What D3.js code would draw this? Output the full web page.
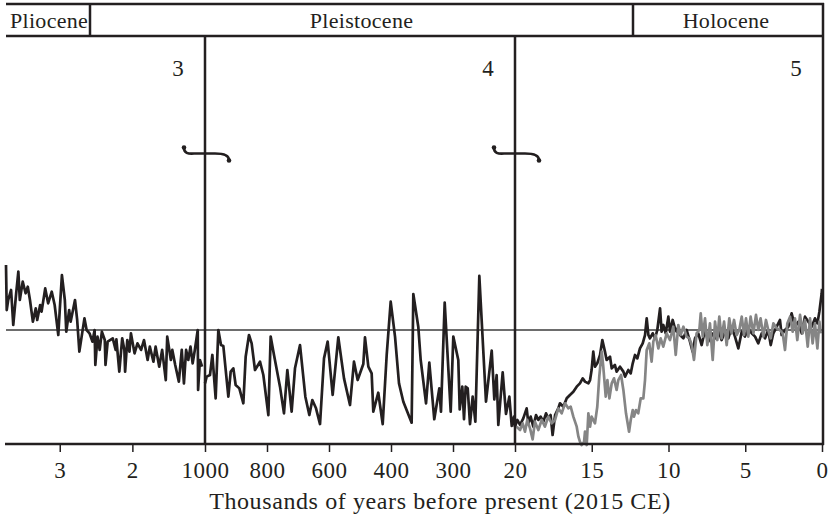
<!DOCTYPE html>
<html>
<head>
<meta charset="utf-8">
<script src="https://cdn.jsdelivr.net/npm/d3@7"></script>
<style>
  html, body { margin: 0; padding: 0; background: #fff; }
  svg { display: block; }
  text { font-family: "Liberation Serif", "Times New Roman", serif; fill: #231f20; }
</style>
</head>
<body>
<svg id="chart" width="830" height="519"></svg>
<script>
// ---------- DATA ----------
const epochs = ["Pliocene", "Pleistocene", "Holocene"];
const panelLabels = ["3", "4", "5"];
const axisTitle = "Thousands of years before present (2015 CE)";

// Panel "3": ages in millions of years (labels 3, 2, then 1000 ky)
const panel3Ticks = [3, 2];
const panel3Ages = [3.740,3.73,3.71,3.67,3.64,3.60,3.57,3.55,3.51,3.47,3.44,3.41,3.37,3.33,3.31,3.27,3.25,3.20,3.16,3.11,3.07,3.02,3.00,2.97,2.93,2.91,2.87,2.85,2.79,2.76,2.73,2.66,2.63,2.59,2.55,2.52,2.51,2.48,2.45,2.42,2.38,2.37,2.34,2.27,2.23,2.22,2.18,2.14,2.11,2.10,2.07,2.04,2.02,1.97,1.93,1.88,1.84,1.79,1.76,1.71,1.68,1.63,1.59,1.54,1.52,1.47,1.45,1.41,1.36,1.32,1.29,1.26,1.23,1.20,1.17,1.14,1.10,1.095,1.07,1.04];
const panel3Values = [5.70,1.75,2.63,3.51,0.44,3.22,5.12,2.63,4.24,3.22,3.80,2.63,0.73,1.90,0.88,2.19,1.61,3.65,2.34,3.36,2.19,-0.44,1.75,4.82,2.63,-0.15,1.75,0.73,2.63,0.88,-1.90,1.02,0,-0.29,-1.02,0,-3.07,-0.58,-1.75,-0.15,-0.88,-3.07,-1.02,-0.73,-1.75,-0.82,-3.65,-0.73,-1.75,-3.65,-0.88,-1.90,-0.29,-2.05,-1.17,-1.75,-0.88,-2.63,-1.46,-2.78,-1.46,-3.22,-1.75,-4.39,-0.58,-2.63,-1.75,-3.07,-4.53,-1.75,-4.68,-1.75,-2.63,-1.46,-2.92,-1.75,0,-5.26,-2.63,-3.22];

// Panel "4": ages in thousands of years
const panel4Ticks = [1000, 800, 600, 400, 300];
const panel4Ages = [1000,994.6,983.9,976.3,965.6,957,948.4,940.9,924.7,917.1,908.6,901.1,889.2,876.3,868.8,858.1,849.5,838.7,822.6,811.8,795.6,788.2,777.4,758.1,745.2,734.4,720.5,709.7,693.5,676.3,663.4,653.8,641.9,629,616.1,604.3,588.2,570,551.6,532.3,519.4,507.6,489.3,483.9,473.1,462.4,457.1,441,426.8,413.9,401,393.5,387.1,380.1,366.7,364,356,352.1,343.5,338.2,330.2,322.1,319.4,313.4,303.7,298.6,276.1,269.7,258,250.3,242.7,233.6,223.2,211.2,199.1,181.1,151,125.2,113.4,102.9,95.4,75.6,60.7,45.6,34.8,24.4,20];
const panel4Values = [-4.68,-4.09,-3.95,-2.19,-5.99,0,-1.32,-1.40,-5.85,-3.65,-3.36,-4.82,-5.12,-6.43,-2.34,-0.44,-1.17,-3.51,-2.78,-3.95,-7.46,-0.58,-2.19,-4.97,-7.31,-3.51,-7.16,-3.36,-1.32,-5.85,-7.46,-6.14,-6.87,-8.25,-2.49,-1.02,-5.70,-0.64,-4.24,-6.58,-2.78,-4.39,-2.98,-0.64,-3.22,-3.80,-7.16,-5.50,-8.25,-2.19,2.49,-0.58,-4.68,-6.29,-8.13,3.16,0.29,-2.63,-6.43,-2.87,-7.83,-5.12,-7.16,2.40,-7.16,-0.58,-2.63,-6.96,-4.97,-7.83,-4.97,-5.12,-8.25,-5.85,-8.04,4.74,-6.29,-1.81,-6.08,-3.95,-8.33,-3.71,-7.37,-5.85,-8.42,-7.60,-8.5];

// Panel "5": ages in thousands of years
const panel5Ticks = [20, 15, 10, 5, 0];
const panel5BlackAges = [20.00,19.85,19.67,19.46,19.24,19.13,18.98,18.81,18.63,18.48,18.33,18.15,17.98,17.83,17.68,17.55,17.39,17.18,17.07,16.85,16.63,16.42,16.20,15.98,15.77,15.59,15.44,15.22,15.11,15.01,14.90,14.79,14.64,14.46,14.31,14.14,14.03,13.81,13.70,13.49,13.38,13.16,12.94,12.83,12.62,12.46,12.33,12.18,12.03,11.86,11.68,11.53,11.42,11.31,11.21,11.03,10.88,10.73,10.55,10.45,10.34,10.18,10.01,9.90,9.73,9.58,9.47,9.36,9.25,9.03,8.82,8.60,8.43,8.27,8.06,7.84,7.62,7.41,7.19,6.97,6.75,6.54,6.32,6.10,5.89,5.67,5.45,5.23,5.02,4.80,4.58,4.36,4.15,3.93,3.71,3.50,3.34,3.17,2.95,2.74,2.63,2.41,2.19,1.98,1.76,1.54,1.32,1.11,0.89,0.67,0.46,0.30,0.17,0.02,0];
const panel5BlackValues = [-8.48,-7.89,-8.33,-7.75,-6.87,-8.19,-7.60,-8.48,-7.46,-7.89,-7.60,-8.04,-7.31,-7.75,-7.46,-9.21,-7.46,-6.87,-6.43,-6.73,-5.99,-5.70,-5.41,-4.97,-4.68,-4.24,-4.53,-4.68,-4.39,-3.51,-1.90,-3.22,-2.92,-2.19,-0.88,-1.90,-2.63,-2.34,-3.36,-3.07,-3.65,-3.22,-3.65,-4.09,-3.51,-3.80,-2.92,-2.19,-2.49,-1.61,-1.17,-0.44,1.02,-0.44,-0.73,-0.29,-0.73,0,1.90,-0.15,0.44,-0.29,1.17,-0.15,0.88,0.15,-0.15,0.29,-0.44,-0.73,0,-1.02,-1.90,-0.73,-0.29,-1.32,0,-1.02,-0.29,-0.73,0,-0.88,-0.15,-0.73,0.29,-0.58,-1.61,-0.15,-0.58,0.15,-0.29,-0.58,-1.17,-0.29,-0.73,0,-1.32,-0.29,0.29,0.88,-0.44,0,0.29,1.46,0.29,0.73,-0.29,1.17,0.73,0.29,1.02,0.58,1.61,3.22,3.6];
const panel5GrayAges = [19.89,19.67,19.50,19.35,19.20,19.02,18.85,18.70,18.48,18.26,18.05,17.83,17.61,17.39,17.18,16.96,16.74,16.53,16.37,16.20,15.98,15.87,15.77,15.66,15.50,15.44,15.33,15.22,15.11,15.01,14.79,14.64,14.51,14.35,14.25,14.09,13.98,13.85,13.70,13.55,13.38,13.27,13.09,12.94,12.77,12.57,12.46,12.33,12.25,12.12,11.97,11.81,11.64,11.53,11.42,11.25,11.10,10.99,10.84,10.66,10.51,10.34,10.12,9.90,9.69,9.53,9.36,9.21,9.03,8.82,8.64,8.49,8.34,8.17,7.99,7.90,7.77,7.62,7.47,7.30,7.12,6.97,6.82,6.69,6.54,6.38,6.21,6.04,5.89,5.73,5.56,5.39,5.23,5.08,4.95,4.80,4.65,4.47,4.30,4.15,4.00,3.82,3.65,3.50,3.34,3.17,2.95,2.74,2.56,2.41,2.26,2.08,1.91,1.76,1.61,1.43,1.26,1.11,0.93,0.78,0.61,0.46,0.30,0.17,0.09];
const panel5GrayValues = [-8.48,-8.77,-8.19,-8.92,-7.89,-8.63,-9.59,-8.04,-8.77,-7.89,-8.48,-7.60,-8.19,-7.89,-6.87,-7.31,-6.43,-6.87,-6.73,-7.60,-8.48,-9.36,-9.80,-10.09,-9.80,-8.92,-10.09,-7.31,-8.48,-7.60,-8.19,-6.73,-4.09,-1.90,-3.22,-5.85,-4.39,-5.99,-4.68,-4.24,-5.26,-4.39,-3.95,-5.26,-7.31,-8.92,-7.89,-7.02,-7.60,-7.02,-7.31,-5.99,-5.99,-4.39,-1.75,-1.17,-2.78,-1.02,-0.44,-1.61,-0.73,-1.46,-0.29,-0.88,0.29,-2.19,0.44,-0.44,0.29,-0.58,-0.73,-1.32,-2.63,-0.29,0,1.46,-0.58,1.02,-1.32,0.58,-2.63,0.73,-0.88,1.17,-0.73,0.73,-1.32,1.02,-0.29,0.88,-0.44,0,1.17,-0.44,1.02,-0.58,1.17,-0.29,1.32,0,1.02,-0.58,0.88,0,-0.73,0.58,0.15,0,-0.29,-1.75,0.58,1.17,-0.15,1.02,-0.88,1.32,-0.29,0.88,-1.46,1.02,-1.17,0.58,-1.61,0.73,-0.29];

// ---------- LAYOUT ----------
const ink = "#231f20";
const svg = d3.select("#chart");
const bandTop = 4, bandBottom = 36, axisY = 444;
const leftX = 6, rightX = 823;

const x3 = d3.scaleLinear().domain([3.74, 1.0]).range([leftX, 205]);
const x4 = d3.scaleLinear().domain([1000, 800, 600, 400, 300, 20]).range([205, 267, 329, 391, 453, 515]);
const x5 = d3.scaleLinear().domain([20, 0]).range([515, 822]);
const y = d3.scaleLinear().domain([-10, 10]).range([axisY, 216]);

const div1 = x4(1000), div2 = x5(20);

// Epoch band
const band = svg.append("g");
band.append("line").attr("x1", leftX).attr("x2", rightX + 1).attr("y1", bandTop).attr("y2", bandTop)
  .attr("stroke", ink).attr("stroke-width", 2.5);
band.append("line").attr("x1", leftX).attr("x2", rightX + 1).attr("y1", bandBottom).attr("y2", bandBottom)
  .attr("stroke", ink).attr("stroke-width", 2.5);
const epochEdges = [90, 633];
epochEdges.forEach(ex => band.append("line").attr("x1", ex).attr("x2", ex).attr("y1", bandTop).attr("y2", bandBottom)
  .attr("stroke", ink).attr("stroke-width", 2.5));
band.append("text").attr("x", 10).attr("y", 28).attr("font-size", 22).attr("letter-spacing", 0.3).text(epochs[0]);
band.append("text").attr("x", (90 + 633) / 2).attr("y", 28).attr("font-size", 22).attr("letter-spacing", 0.3)
  .attr("text-anchor", "middle").text(epochs[1]);
band.append("text").attr("x", (633 + rightX) / 2 - 2).attr("y", 28).attr("font-size", 22).attr("letter-spacing", 0.3)
  .attr("text-anchor", "middle").text(epochs[2]);

// zero reference line
svg.append("line").attr("x1", leftX).attr("x2", rightX).attr("y1", y(0)).attr("y2", y(0))
  .attr("stroke", "#3c3c3c").attr("stroke-width", 1.4);

// data lines
const line3 = d3.line().x(d => x3(d[0])).y(d => y(d[1]));
const line4 = d3.line().x(d => x4(d[0])).y(d => y(d[1]));
const line5 = d3.line().x(d => x5(d[0])).y(d => y(d[1]));
const zip = (a, b) => a.map((v, i) => [v, b[i]]);

svg.append("path").datum(zip(panel3Ages, panel3Values)).attr("d", line3)
  .attr("fill", "none").attr("stroke", ink).attr("stroke-width", 2.7).attr("stroke-linejoin", "round");
svg.append("path").datum(zip(panel4Ages, panel4Values)).attr("d", line4)
  .attr("fill", "none").attr("stroke", ink).attr("stroke-width", 2.7).attr("stroke-linejoin", "round");
svg.append("path").datum(zip(panel5BlackAges, panel5BlackValues)).attr("d", line5)
  .attr("fill", "none").attr("stroke", ink).attr("stroke-width", 2.7).attr("stroke-linejoin", "round");
svg.append("path").datum(zip(panel5GrayAges, panel5GrayValues)).attr("d", line5)
  .attr("fill", "none").attr("stroke", "#858585").attr("stroke-width", 2.7).attr("stroke-linejoin", "round");

// panel dividers and right border
[div1, div2].forEach(dx => svg.append("line").attr("x1", dx).attr("x2", dx).attr("y1", bandBottom).attr("y2", axisY)
  .attr("stroke", ink).attr("stroke-width", 2.5));
svg.append("line").attr("x1", rightX).attr("x2", rightX).attr("y1", bandTop - 1).attr("y2", axisY + 1)
  .attr("stroke", ink).attr("stroke-width", 2.5);

// panel numbers
[div1, div2, rightX].forEach((dx, i) => svg.append("text").attr("x", dx - 27).attr("y", 76)
  .attr("font-size", 23).attr("text-anchor", "middle").text(panelLabels[i]));

// break marks (swash)
[div1, div2].forEach(dx => {
  const g = svg.append("g").attr("fill", "none").attr("stroke", ink);
  g.append("path")
    .attr("d", `M${dx - 21},148 C${dx - 21},153 ${dx - 17},154 ${dx - 11},153.5 L${dx + 10},153.5 C${dx + 19},153.5 ${dx + 24},155 ${dx + 24},160`)
    .attr("stroke-width", 2.6).attr("stroke-linecap", "round");
  g.append("circle").attr("cx", dx - 21).attr("cy", 147.5).attr("r", 2.3).attr("fill", ink).attr("stroke", "none");
  g.append("circle").attr("cx", dx + 24).attr("cy", 160.5).attr("r", 2.3).attr("fill", ink).attr("stroke", "none");
});

// axis line
svg.append("line").attr("x1", leftX - 1).attr("x2", rightX + 1).attr("y1", axisY).attr("y2", axisY)
  .attr("stroke", ink).attr("stroke-width", 2.5);

function styleAxis(g) {
  g.select(".domain").remove();
  g.selectAll(".tick line").attr("stroke", ink).attr("stroke-width", 1.5);
  g.selectAll(".tick text").attr("font-family", "'Liberation Serif', serif").attr("font-size", 23)
    .attr("letter-spacing", 0.5).attr("fill", ink).attr("dy", 0).attr("y", 34);
}
svg.append("g").attr("transform", `translate(0,${axisY})`)
  .call(d3.axisBottom(x3).tickValues(panel3Ticks).tickFormat(d3.format("d")).tickSize(8)).call(styleAxis);
svg.append("g").attr("transform", `translate(0,${axisY})`)
  .call(d3.axisBottom(x4).tickValues(panel4Ticks).tickFormat(d3.format("d")).tickSize(8)).call(styleAxis);
svg.append("g").attr("transform", `translate(0,${axisY})`)
  .call(d3.axisBottom(x5).tickValues(panel5Ticks).tickFormat(d3.format("d")).tickSize(8)).call(styleAxis);

// axis title
svg.append("text").attr("x", 440).attr("y", 509).attr("font-size", 24).attr("letter-spacing", 0.6)
  .attr("text-anchor", "middle").text(axisTitle);
</script>
</body>
</html>
